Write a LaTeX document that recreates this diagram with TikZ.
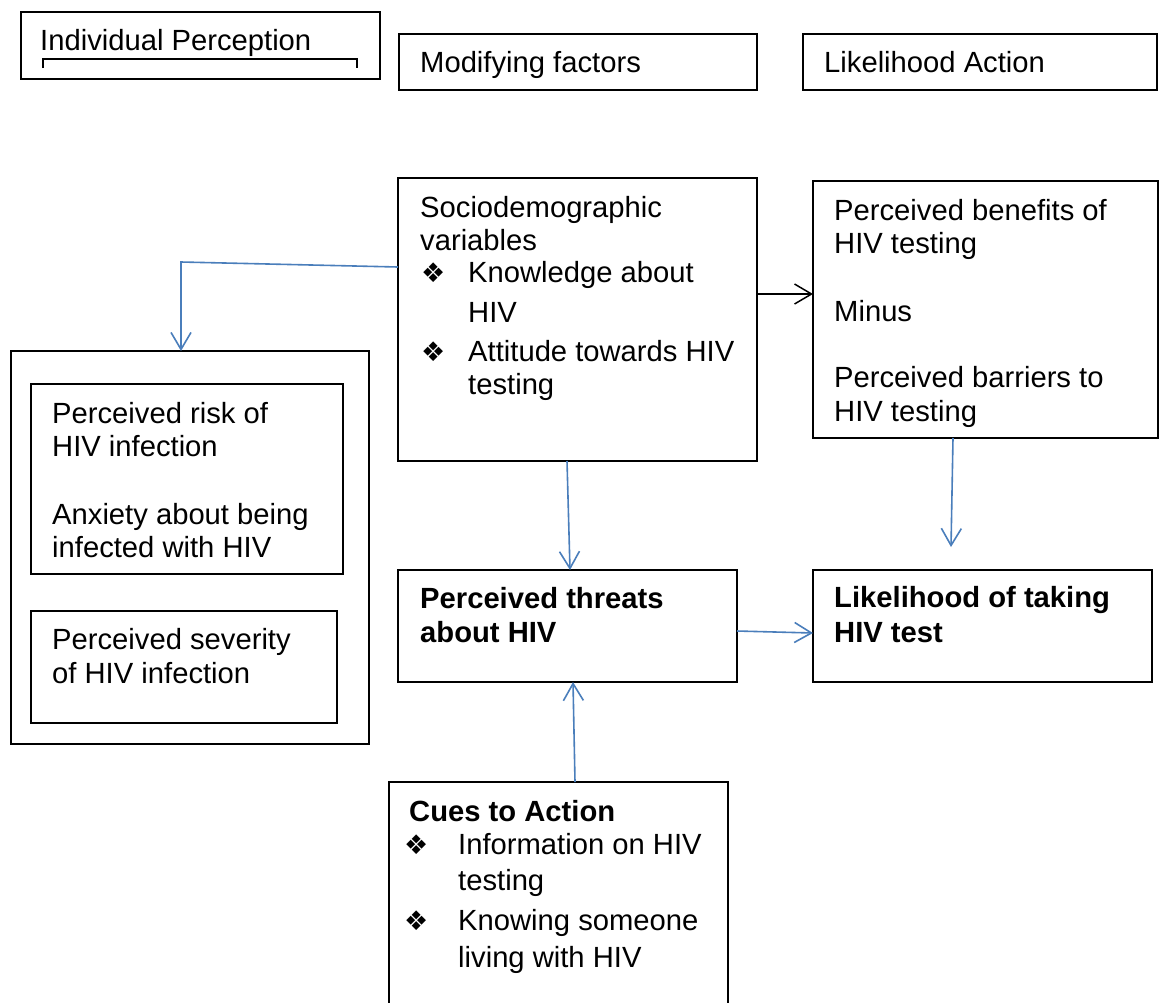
\documentclass[tikz,border=0pt]{standalone}
\usepackage{fontspec}
\setmainfont{Liberation Sans}
\newfontfamily\symfont{DejaVu Sans}
\usetikzlibrary{arrows.meta}
\definecolor{arrblue}{HTML}{4A7EBB}
\begin{document}
\begin{tikzpicture}[x=1pt,y=-1pt,
 box/.style={draw=black, line width=1.8pt, anchor=north west, inner sep=0pt, outer sep=0pt},
 txt/.style={anchor=base west, inner sep=0pt, font=\fontsize{29.2}{33}\selectfont},
 btxt/.style={anchor=base west, inner sep=0pt, font=\fontsize{29.2}{33}\selectfont\bfseries},
 bul/.style={anchor=base west, inner sep=0pt, font=\symfont\fontsize{27}{30}\selectfont},
 barrow/.style={draw=arrblue, line width=1.6pt, -{Straight Barb[length=17pt,width=20pt]}},
 karrow/.style={draw=black, line width=1.5pt, -{Straight Barb[length=17pt,width=20pt]}}]
\useasboundingbox[fill=white] (0,0) rectangle (1159,1002);

% header boxes
\node[box, minimum width=359pt, minimum height=67pt] (ip) at (21,12) {};
\draw[line width=1.2pt] (43,68) -- (43,59) -- (357,59) -- (357,68);
\node[txt] (ipt) at (40,50) {Individual Perception};
\node[box, minimum width=358pt, minimum height=56pt] (mf) at (399,34) {};
\node[txt] (mft) at (420,72) {Modifying factors};
\node[box, minimum width=354pt, minimum height=56pt] (la) at (803,34) {};
\node[txt] (lat) at (824,72) {Likelihood Action};

% sociodemographic
\node[box, minimum width=359pt, minimum height=283pt] (soc) at (398,178) {};
\node[txt] (s1) at (420,217) {Sociodemographic};
\node[txt] (s2) at (420,250) {variables};
\node[bul] (sb1) at (421,282) {❖};
\node[txt] (s3) at (468,282) {Knowledge about};
\node[txt] (s4) at (468,322) {HIV};
\node[bul] (sb2) at (421,361) {❖};
\node[txt] (s5) at (468,361) {Attitude towards HIV};
\node[txt] (s6) at (468,394) {testing};

% benefits
\node[box, minimum width=345pt, minimum height=257pt] (ben) at (813,181) {};
\node[txt] (b1) at (834,220) {Perceived benefits of};
\node[txt] (b2) at (834,253) {HIV testing};
\node[txt] (b3) at (834,321) {Minus};
\node[txt] (b4) at (834,387) {Perceived barriers to};
\node[txt] (b5) at (834,421) {HIV testing};

% individual perception group
\node[box, minimum width=358pt, minimum height=393pt] (outer) at (11,351) {};
\node[box, minimum width=312pt, minimum height=190pt] (in1) at (31,384) {};
\node[txt] (i1) at (52,423) {Perceived risk of};
\node[txt] (i2) at (52,456) {HIV infection};
\node[txt] (i3) at (52,524) {Anxiety about being};
\node[txt] (i4) at (52,557) {infected with HIV};
\node[box, minimum width=306pt, minimum height=112pt] (in2) at (31,611) {};
\node[txt] (i5) at (52,649) {Perceived severity};
\node[txt] (i6) at (52,683) {of HIV infection};

% threats and likelihood
\node[box, minimum width=339pt, minimum height=112pt] (thr) at (398,570) {};
\node[btxt] (t1) at (420,608) {Perceived threats};
\node[btxt] (t2) at (420,642) {about HIV};
\node[box, minimum width=339pt, minimum height=112pt] (lik) at (813,570) {};
\node[btxt] (l1) at (834,607) {Likelihood of taking};
\node[btxt] (l2) at (834,642) {HIV test};

% cues
\node[box, minimum width=339pt, minimum height=228pt] (cue) at (389,782) {};
\node[btxt] (c0) at (409,821) {Cues to Action};
\node[bul] (cb1) at (404,854) {❖};
\node[txt] (c1) at (458,854) {Information on HIV};
\node[txt] (c2) at (458,890) {testing};
\node[bul] (cb2) at (404,930) {❖};
\node[txt] (c3) at (458,930) {Knowing someone};
\node[txt] (c4) at (458,967) {living with HIV};

% connectors
\coordinate (bend) at (181,262);
\draw[barrow] ([yshift=-89pt]soc.north west) -- (bend) -- (181,0 |- outer.north);
\draw[karrow] (soc.east |- 0,294) -- (ben.west |- 0,294);
\draw[barrow] (567,0 |- soc.south) -- (570,0 |- thr.north);
\coordinate (e1) at (951,547);
\draw[barrow] (953,0 |- ben.south) -- (e1);
\draw[barrow] (thr.east |- 0,631) -- (lik.west |- 0,633);
\draw[barrow] (575,0 |- cue.north) -- (573,0 |- thr.south);
\end{tikzpicture}
\end{document}
